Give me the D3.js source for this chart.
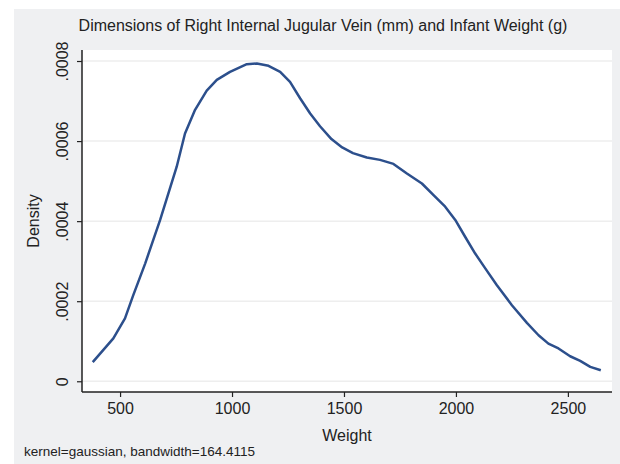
<!DOCTYPE html>
<html>
<head>
<meta charset="utf-8">
<script src="https://cdn.jsdelivr.net/npm/d3@7"></script>
<style>
  body { margin: 0; background: #fff; }
  text { font-family: "Liberation Sans", Arial, Helvetica, sans-serif; fill: #222; }
</style>
</head>
<body>
<div class="wrapper"></div>
<script>
// kernel density estimate
var weight = [378, 470, 522, 559, 612, 679, 753, 790, 835, 887, 932, 991, 1066, 1111, 1163, 1215,
              1259, 1304, 1349, 1393, 1444, 1492, 1540, 1602, 1661, 1721, 1781, 1848, 1900, 1952,
              1997, 2041, 2086, 2131, 2183, 2250, 2317, 2369, 2413, 2458, 2510, 2555, 2600, 2647];
var density = [4.8e-5, 1.07e-4, 1.57e-4, 2.15e-4, 2.94e-4, 4.03e-4, 5.36e-4, 6.19e-4, 6.78e-4, 7.26e-4,
               7.53e-4, 7.73e-4, 7.92e-4, 7.94e-4, 7.88e-4, 7.73e-4, 7.48e-4, 7.07e-4, 6.69e-4, 6.37e-4,
               6.05e-4, 5.84e-4, 5.70e-4, 5.59e-4, 5.53e-4, 5.43e-4, 5.19e-4, 4.94e-4, 4.65e-4, 4.36e-4,
               4.03e-4, 3.61e-4, 3.19e-4, 2.82e-4, 2.40e-4, 1.90e-4, 1.46e-4, 1.15e-4, 9.4e-5, 8.2e-5,
               6.25e-5, 5.1e-5, 3.6e-5, 2.75e-5];
var xTicks = [500, 1000, 1500, 2000, 2500];
var yTicks = [0, 0.0002, 0.0004, 0.0006, 0.0008];
var yTickLabels = ["0", ".0002", ".0004", ".0006", ".0008"];

var width = 620,
    height = 464;
var plot = {left: 82, right: 612, top: 50, bottom: 392};

var svg = d3.select(".wrapper").append("svg")
    .attr("width", width)
    .attr("height", height);

// outer graph region
svg.append("rect")
    .attr("x", 14).attr("y", 9)
    .attr("width", width - 14).attr("height", height - 9)
    .attr("fill", "#eff0f2");

svg.append("rect")
    .attr("x", plot.left).attr("y", plot.top)
    .attr("width", plot.right - plot.left).attr("height", plot.bottom - plot.top)
    .attr("fill", "#fff");

var x = d3.scaleLinear()
    .domain([330, 2697])
    .range([plot.left, plot.right]);

var y = d3.scaleLinear()
    .domain([-0.0000268, 0.0008275])
    .range([plot.bottom, plot.top]);

// gridlines
svg.append("g")
    .selectAll("line")
    .data(yTicks)
    .enter().append("line")
    .attr("x1", plot.left).attr("x2", plot.right)
    .attr("y1", function(d) { return y(d); })
    .attr("y2", function(d) { return y(d); })
    .attr("stroke", "#eeeeee")
    .attr("stroke-width", 1.5);

var line = d3.line()
    .x(function(d, i) { return x(weight[i]); })
    .y(function(d) { return y(d); });

svg.append("path")
    .datum(density)
    .attr("fill", "none")
    .attr("stroke", "#2c4f8c")
    .attr("stroke-width", 2.5)
    .attr("stroke-linejoin", "round")
    .attr("d", line);

// axes
var xAxis = svg.append("g")
    .attr("transform", "translate(0," + plot.bottom + ")")
    .call(d3.axisBottom(x).tickValues(xTicks).tickSize(5).tickPadding(6).tickSizeOuter(0)
        .tickFormat(d3.format("d")));

var yAxis = svg.append("g")
    .attr("transform", "translate(" + plot.left + ",0)")
    .call(d3.axisLeft(y).tickValues(yTicks).tickSize(5).tickSizeOuter(0)
        .tickFormat(function(d, i) { return yTickLabels[i]; }));

[xAxis, yAxis].forEach(function(a) {
  a.select(".domain").attr("stroke", "#222").attr("stroke-width", 1.5);
  a.selectAll(".tick line").attr("stroke", "#222").attr("stroke-width", 1.2);
  a.selectAll("text").attr("font-size", 16).attr("font-family", null).attr("fill", "#222");
});

// rotated y tick labels like stata
yAxis.selectAll(".tick text")
    .attr("x", null).attr("dy", null)
    .attr("text-anchor", "middle")
    .attr("transform", "translate(-14,0) rotate(-90)");

xAxis.select(".domain").attr("d", "M" + plot.left + ",0H" + plot.right);
yAxis.select(".domain").attr("d", "M0," + plot.top + "V" + plot.bottom);

svg.append("text")
    .attr("x", 323).attr("y", 31)
    .attr("text-anchor", "middle")
    .attr("font-size", 16)
    .text("Dimensions of Right Internal Jugular Vein (mm) and Infant Weight (g)");

svg.append("text")
    .attr("x", (plot.left + plot.right) / 2).attr("y", 441)
    .attr("text-anchor", "middle")
    .attr("font-size", 16)
    .text("Weight");

svg.append("text")
    .attr("transform", "translate(39," + ((plot.top + plot.bottom) / 2) + ") rotate(-90)")
    .attr("text-anchor", "middle")
    .attr("font-size", 16)
    .text("Density");

svg.append("text")
    .attr("x", 24).attr("y", 456)
    .attr("font-size", 13.5)
    .text("kernel=gaussian, bandwidth=164.4115");
</script>
</body>
</html>
